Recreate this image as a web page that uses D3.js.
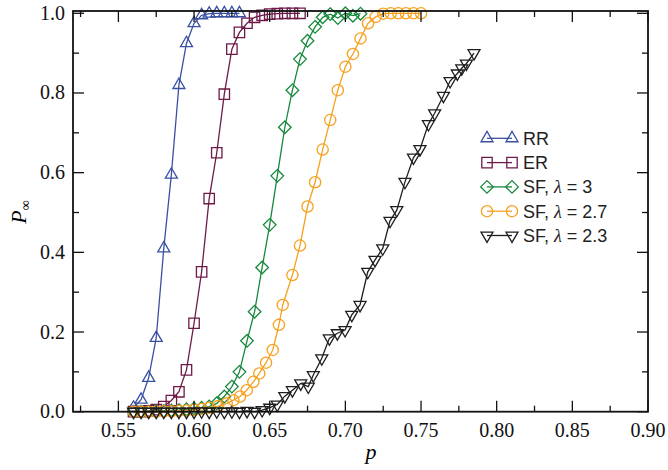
<!DOCTYPE html>
<html><head><meta charset="utf-8">
<script src="https://cdn.jsdelivr.net/npm/d3@7"></script>
<style>body{margin:0;background:#fff}svg{display:block}</style>
</head><body>
<svg id="c" width="668" height="470"></svg>
<script>
// ---------- data ----------
const xTicks = [0.55,0.60,0.65,0.70,0.75,0.80,0.85,0.90];
const yTicks = [0.0,0.2,0.4,0.6,0.8,1.0];
const seriesNames = ["RR","ER","SF3","SF27","SF23"];

const rrP = [0.56,0.565,0.57,0.575,0.58,0.585,0.59,0.595,0.60,0.605,0.61,0.615,0.62,0.625,0.63];
const rrV = [0.01,0.03,0.085,0.185,0.41,0.595,0.82,0.925,0.975,0.995,0.999,1.0,1.0,1.0,1.0];

const erP = [0.56,0.565,0.57,0.575,0.58,0.585,0.59,0.595,0.60,0.605,0.61,0.615,0.62,0.625,0.63,0.635,0.64,0.645,0.65,0.655,0.66,0.665,0.67];
const erV = [0.0,0.0,0.002,0.005,0.013,0.028,0.05,0.105,0.222,0.351,0.535,0.65,0.797,0.91,0.952,0.975,0.99,0.995,0.998,0.999,1.0,1.0,1.0];

const sf3P = [0.56,0.565,0.57,0.575,0.58,0.585,0.59,0.595,0.60,0.605,0.61,0.615,0.62,0.625,0.63,0.635,0.64,0.645,0.65,0.655,0.66,0.665,0.67,0.675,0.68,0.685,0.69,0.695,0.70,0.705,0.71];
const sf3V = [0.0,0.0,0.0,0.001,0.002,0.003,0.004,0.006,0.008,0.010,0.013,0.021,0.038,0.063,0.10,0.178,0.251,0.362,0.469,0.592,0.714,0.807,0.885,0.931,0.966,0.99,0.998,0.988,1.0,0.994,0.999];

const sf27P = [0.56,0.565,0.57,0.575,0.58,0.585,0.59,0.595,0.60,0.605,0.61,0.616,0.6216,0.626,0.6304,0.6348,0.6392,0.6431,0.6476,0.652,0.6561,0.6586,0.665,0.67,0.675,0.68,0.685,0.69,0.695,0.70,0.705,0.71,0.715,0.72,0.725,0.73,0.735,0.74,0.745,0.75];
const sf27V = [0.0,0.0,0.0,0.0,0.001,0.001,0.002,0.003,0.005,0.007,0.01,0.014,0.021,0.029,0.038,0.054,0.075,0.096,0.123,0.155,0.218,0.268,0.343,0.417,0.515,0.576,0.658,0.732,0.807,0.866,0.898,0.937,0.975,0.991,0.999,1.0,1.0,1.0,1.0,1.0];

const sf23P = [0.56,0.565,0.57,0.575,0.58,0.585,0.59,0.595,0.60,0.605,0.61,0.615,0.62,0.625,0.63,0.635,0.64,0.645,0.65,0.655,0.66,0.665,0.6705,0.6755,0.6788,0.6844,0.6894,0.6947,0.6998,0.7042,0.7097,0.7148,0.7196,0.7247,0.7295,0.734,0.7394,0.745,0.7493,0.7549,0.759,0.7648,0.7692,0.774,0.7769,0.780,0.785];
const sf23V = [0.0,0.0,0.0,0.0,0.0,0.0,0.0,0.0,0.0,0.001,0.0,0.001,0.0,0.001,0.0,0.002,0.0,0.004,0.01,0.018,0.039,0.054,0.071,0.063,0.092,0.134,0.184,0.197,0.205,0.243,0.268,0.351,0.381,0.41,0.479,0.506,0.577,0.638,0.659,0.722,0.749,0.793,0.83,0.849,0.862,0.874,0.90];

const legendLabels = ["RR","ER","SF, λ = 3","SF, λ = 2.7","SF, λ = 2.3"];
// ---------- chart ----------
const colors = {RR:"#3a50a2",ER:"#6d1a48",SF3:"#16883c",SF27:"#f6a01e",SF23:"#1e1e1e"};
const shapes = {RR:"tri",ER:"sq",SF3:"dia",SF27:"circ",SF23:"tridown"};
const data = {
  RR: rrP.map((p,i)=>[p,rrV[i]]),
  ER: erP.map((p,i)=>[p,erV[i]]),
  SF3: sf3P.map((p,i)=>[p,sf3V[i]]),
  SF27: sf27P.map((p,i)=>[p,sf27V[i]]),
  SF23: sf23P.map((p,i)=>[p,sf23V[i]])
};

const L=73, R=648, T=11, B=411.7;
const x = d3.scaleLinear().domain([0.52,0.90]).range([L,R]);
const y = d3.scaleLinear().domain([0,1]).range([B,13.3]);
const svg = d3.select("#c");

function markerPath(shape){
  switch(shape){
    case "tri": {const s=12,h=s*0.866; return `M0,${-h*2/3}L${s/2},${h/3}L${-s/2},${h/3}Z`;}
    case "tridown": {const s=12,h=s*0.866; return `M0,${h*2/3}L${s/2},${-h/3}L${-s/2},${-h/3}Z`;}
    case "sq": {const a=5.2; return `M${-a},${-a}H${a}V${a}H${-a}Z`;}
    case "dia": {const a=6.3; return `M0,${-a}L${a},0L0,${a}L${-a},0Z`;}
    case "circ": {const r=5.6; return `M${r},0A${r},${r} 0 1,1 ${-r},0A${r},${r} 0 1,1 ${r},0Z`;}
  }
}

const line = d3.line().x(d=>x(d[0])).y(d=>y(d[1]));
const plot = svg.append("g");
seriesNames.forEach(k=>{
  const g = plot.append("g");
  g.append("path").attr("d",line(data[k])).attr("fill","none")
    .attr("stroke",colors[k]).attr("stroke-width",1.3);
  g.selectAll("path.m").data(data[k]).join("path").attr("class","m")
    .attr("transform",d=>`translate(${x(d[0])},${y(d[1])})`)
    .attr("d",markerPath(shapes[k])).attr("fill","none")
    .attr("stroke",colors[k]).attr("stroke-width",1.3);
});

// frame & ticks
const axG = svg.append("g");
const major = 11, minor = 6;
const xMinor = d3.range(0.525,0.9001,0.025).filter(v=>!xTicks.some(t=>Math.abs(t-v)<1e-6));
const yMinor = [0.1,0.3,0.5,0.7,0.9];
function tk(x1,y1,x2,y2){axG.append("line").attr("x1",x1).attr("y1",y1).attr("x2",x2).attr("y2",y2).attr("stroke","#111").attr("stroke-width",1.3);}
xTicks.forEach(t=>{tk(x(t),B,x(t),B-major);tk(x(t),T,x(t),T+major);});
xMinor.forEach(t=>{tk(x(t),B,x(t),B-minor);tk(x(t),T,x(t),T+minor);});
yTicks.forEach(t=>{tk(L,y(t),L+major,y(t));tk(R,y(t),R-major,y(t));});
yMinor.forEach(t=>{tk(L,y(t),L+minor,y(t));tk(R,y(t),R-minor,y(t));});
axG.append("rect").attr("x",L).attr("y",T).attr("width",R-L).attr("height",B-T)
  .attr("fill","none").attr("stroke","#111").attr("stroke-width",1.8);

const serif = "'Liberation Serif','DejaVu Serif',serif";
svg.append("g").selectAll("text").data(xTicks).join("text")
  .attr("x",d=>x(d)).attr("y",437).attr("text-anchor","middle")
  .attr("font-family",serif).attr("font-size",20).attr("fill","#111")
  .text(d=>d3.format(".2f")(d));
svg.append("g").selectAll("text").data(yTicks).join("text")
  .attr("x",65).attr("y",d=>y(d)+6.5).attr("text-anchor","end")
  .attr("font-family",serif).attr("font-size",20).attr("fill","#111")
  .text(d=>d3.format(".1f")(d));

svg.append("text").attr("x",371).attr("y",459).attr("text-anchor","middle")
  .attr("font-family",serif).attr("font-style","italic").attr("font-size",22).text("p");
const yl = svg.append("text").attr("transform","translate(26,212) rotate(-90)")
  .attr("text-anchor","middle").attr("font-family",serif).attr("font-size",22);
yl.append("tspan").attr("font-style","italic").text("P");
yl.append("tspan").attr("font-size",14).attr("dy",4).text("∞");

// legend
const lg = svg.append("g");
seriesNames.forEach((k,i)=>{
  const cy = 138.3 + i*24.3;
  lg.append("line").attr("x1",487).attr("x2",512).attr("y1",cy).attr("y2",cy)
    .attr("stroke",colors[k]).attr("stroke-width",1.3);
  [487,512].forEach(cx=>lg.append("path").attr("transform",`translate(${cx},${cy})`)
    .attr("d",markerPath(shapes[k])).attr("fill","none").attr("stroke",colors[k]).attr("stroke-width",1.3));
  const t = lg.append("text").attr("x",523).attr("y",cy+6.5)
    .attr("font-family","'Liberation Sans',Arial,sans-serif").attr("font-size",18).attr("fill","#222");
  const lab = legendLabels[i];
  if(lab.includes("λ")){
    const parts = lab.split("λ");
    t.append("tspan").text(parts[0]);
    t.append("tspan").attr("font-family",serif).attr("font-style","italic").text("λ");
    t.append("tspan").text(parts[1]);
  } else t.text(lab);
});
</script>
</body></html>
